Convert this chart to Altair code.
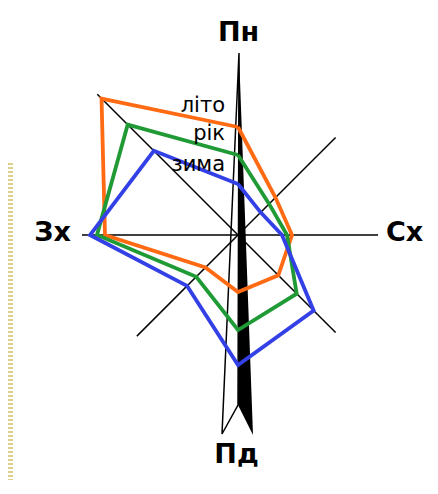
import altair as alt
import pandas as pd

# --- data (radii in relative units) ---
directions = ["Пн", "ПнСх", "Сх", "ПдСх", "Пд", "ПдЗх", "Зх", "ПнЗх"]
angles = [0, 45, 90, 135, 180, 225, 270, 315]
summer = [10.8, 5.3, 5.4, 5.7, 5.7, 4.6, 13.3, 19.3]
year = [8.0, 4.4, 4.9, 8.3, 9.5, 5.9, 14.1, 15.6]
winter = [5.1, 3.2, 4.4, 10.7, 13.0, 7.2, 14.8, 11.9]
series_names = ["літо", "рік", "зима"]
series_colors = ["#ff6a13", "#1f9a35", "#3340e6"]

# spokes of the rose (direction, length)
spoke_angles = [45, 90, 135, 225, 270, 315]
spoke_lengths = [13.8, 14.0, 13.8, 14.3, 15.6, 19.9]

# compass needle (black half and outlined half)
needle_black_y = [18.2, -17.0, -20.0]
needle_black_left = [0.1, 0.0, 1.5]
needle_black_right = [0.1, 1.39, 1.5]
needle_outline_x = [0.1, -1.6, 0.0, 0.1]
needle_outline_y = [18.2, -19.9, -17.0, 18.2]

# labels
compass_text = ["Пн", "Сх", "Пд", "Зх"]
compass_x = [0.05, 16.65, -0.15, -18.55]
compass_y = [19.4, -0.57, -22.8, -0.6]
series_label_x = [-1.3, -1.3, -1.3]
series_label_y = [12.33, 9.5, 6.4]

# decorative stripe on the left
stripe_x = [-22.75]
stripe_top = [7.2]
stripe_bottom = [-24.5]

# --- build tables ---
rows = []
for name, vals in zip(series_names, [summer, year, winter]):
    for i in range(len(angles) + 1):
        k = i % len(angles)
        rows.append({"series": name, "dir": directions[k], "angle": angles[k],
                     "r": vals[k], "order": i})
poly_df = pd.DataFrame(rows)
spoke_df = pd.DataFrame({"angle": spoke_angles, "len": spoke_lengths})
black_df = pd.DataFrame({"y": needle_black_y, "xl": needle_black_left, "xr": needle_black_right})
outline_df = pd.DataFrame({"x": needle_outline_x, "y": needle_outline_y,
                           "order": list(range(len(needle_outline_x)))})
compass_df = pd.DataFrame({"t": compass_text, "x": compass_x, "y": compass_y})
label_df = pd.DataFrame({"t": series_names, "x": series_label_x, "y": series_label_y})
stripe_df = pd.DataFrame({"x": stripe_x, "y": stripe_top, "y2": stripe_bottom})

W, H = 422, 472
xs = alt.Scale(domain=[-23.0, 19.2], nice=False, zero=False)
ys = alt.Scale(domain=[-24.5, 22.7], nice=False, zero=False)

def X(f):
    return alt.X(f, scale=xs, axis=None)

def Y(f):
    return alt.Y(f, scale=ys, axis=None)

stripe = alt.Chart(stripe_df).mark_rule(
    strokeWidth=5, strokeDash=[2, 2], color="#dcd08a"
).encode(x=X("x:Q"), y=Y("y:Q"), y2="y2:Q")

spokes = alt.Chart(spoke_df).transform_calculate(
    x0="0", y0="0",
    x1="datum.len*sin(datum.angle*PI/180)",
    y1="datum.len*cos(datum.angle*PI/180)",
).mark_rule(color="black", strokeWidth=1.5).encode(
    x=X("x0:Q"), y=Y("y0:Q"), x2="x1:Q", y2="y1:Q"
)

needle_black = alt.Chart(black_df).mark_area(
    orient="horizontal", color="black"
).encode(y=Y("y:Q"), x=X("xl:Q"), x2="xr:Q")

needle_outline = alt.Chart(outline_df).mark_line(
    color="black", strokeWidth=1.5
).encode(x=X("x:Q"), y=Y("y:Q"), order="order:Q")

polys = alt.Chart(poly_df).transform_calculate(
    px="datum.r*sin(datum.angle*PI/180)",
    py="datum.r*cos(datum.angle*PI/180)",
).mark_line(strokeWidth=3.8, strokeJoin="miter").encode(
    x=X("px:Q"), y=Y("py:Q"),
    color=alt.Color("series:N", scale=alt.Scale(domain=series_names, range=series_colors), legend=None),
    order="order:Q",
)

compass = alt.Chart(compass_df).mark_text(
    font="DejaVu Sans", fontWeight="bold", fontSize=27, baseline="alphabetic", align="center", color="black"
).encode(x=X("x:Q"), y=Y("y:Q"), text="t:N")

labels = alt.Chart(label_df).mark_text(
    font="DejaVu Sans", fontSize=21, baseline="alphabetic", align="right", color="black"
).encode(x=X("x:Q"), y=Y("y:Q"), text="t:N")

chart = alt.layer(
    stripe, spokes, needle_black, needle_outline, polys, labels, compass
).properties(
    width=W, height=H, padding=0, autosize=alt.AutoSizeParams(type="none")
).configure_view(stroke=None)

chart.save("out.html", embed_options={"renderer": "svg", "actions": False})
